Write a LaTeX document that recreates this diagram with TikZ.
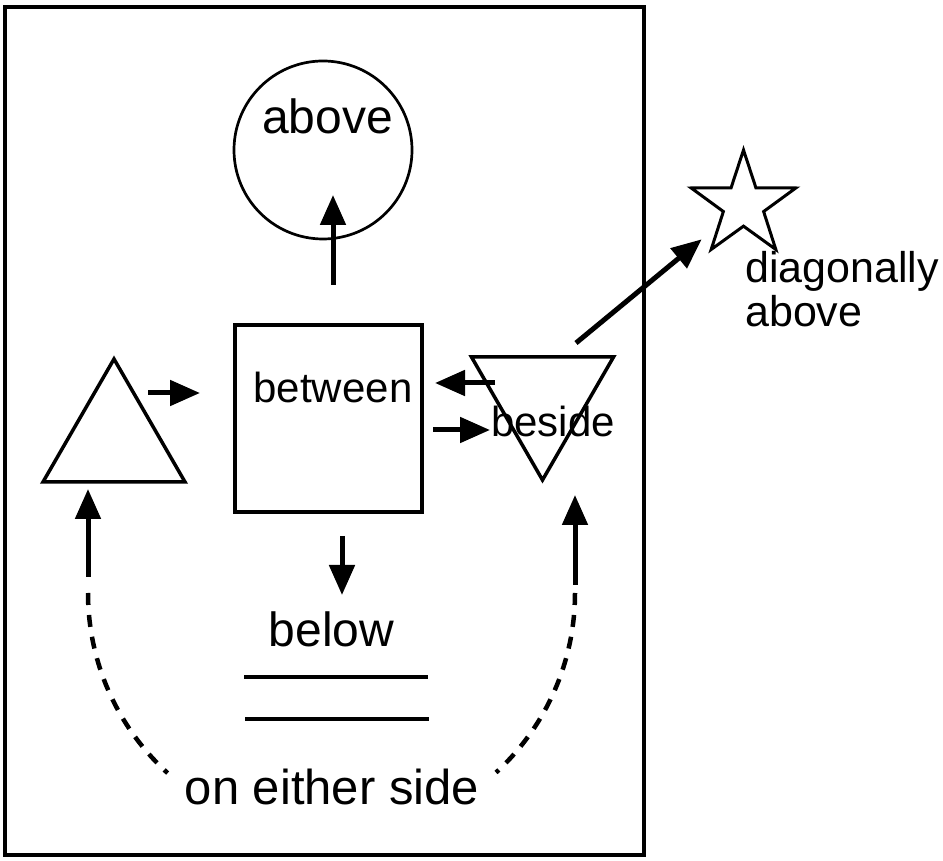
\documentclass[tikz,border=0pt]{standalone}
\usepackage{fontspec}
\setmainfont{Liberation Sans}
\usetikzlibrary{arrows.meta,shapes.geometric}
\begin{document}
\begin{tikzpicture}[x=1pt,y=1pt,
  shapeline/.style={draw, inner sep=0pt, outer sep=0pt},
  arrowline/.style={line width=5pt, -{Triangle[length=30pt,width=25pt]}},
  dashline/.style={line width=4.5pt, dash pattern=on 12pt off 10pt},
  bigtext/.style={font=\fontsize{48}{56}\selectfont, inner sep=0pt, anchor=base},
  midtext/.style={font=\fontsize{42}{48}\selectfont, inner sep=0pt, anchor=base},
]
\useasboundingbox (0,0) rectangle (943,860);

% outer frame
\draw[line width=4.5pt] (5,5) rectangle (644,853);

% shapes
\node[shapeline, circle, line width=2.7pt, minimum size=178pt] (circ) at (323,710) {};
\node[shapeline, rectangle, line width=3.5pt, minimum size=187pt] (box) at (328.5,441.5) {};
\node[shapeline, regular polygon, regular polygon sides=3, line width=3.5pt,
      minimum size=164pt] (tril) at (114,419) {};
\node[shapeline, regular polygon, regular polygon sides=3, shape border rotate=180,
      line width=3.5pt, minimum size=164pt] (trir) at (542.5,462) {};
\node[shapeline, star, star points=5, star point ratio=2.6, line width=3pt,
      minimum size=110pt] (star) at (743.5,655) {};
\draw[line width=3.5pt] (244,183) coordinate (l1a) -- (428,183) coordinate (l1b);
\draw[line width=3.5pt] (245,141) coordinate (l2a) -- (429,141) coordinate (l2b);

% labels
\node[bigtext] (tabove) at (327.5,726) {above};
\node[midtext] (tbetween) at (333,457) {between};
\node[midtext] (tbeside) at (553,423) {beside};
\node[bigtext] (tbelow) at (331.5,213) {below};
\node[bigtext, font=\fontsize{49}{56}\selectfont] (tside) at (332,56) {on either side};
\node[font=\fontsize{43}{44}\selectfont, inner sep=0pt, anchor=base west, align=left]
  (tdiag) at (745,533) {diagonally\\above};

% arrow end points
\coordinate (upA) at (333,575);   \coordinate (upB) at (333,665);
\coordinate (ltA) at (148,467);   \coordinate (ltB) at (200,467);
\coordinate (bsA) at (495,477);   \coordinate (bsB) at (435,477);
\coordinate (bxA) at (433,430);   \coordinate (bxB) at (490,430);
\coordinate (dnA) at (342,324);   \coordinate (dnB) at (342,265);
\coordinate (luA) at (88,283);    \coordinate (luB) at (88,371);
\coordinate (ruA) at (575,275);   \coordinate (ruB) at (575,365);
\coordinate (dgA) at (576,517);   \coordinate (dgB) at (701.7,620.7);
\coordinate (arcc) at (331.5,267);

% arrows
\draw[arrowline] (upA) -- (upB);
\draw[arrowline] (ltA) -- (ltB);
\draw[arrowline] (bsA) -- (bsB);
\draw[arrowline] (bxA) -- (bxB);
\draw[arrowline] (dnA) -- (dnB);
\draw[arrowline] (luA) -- (luB);
\draw[arrowline] (ruA) -- (ruB);
\draw[arrowline] (dgA) -- (dgB);

% dashed sweeps on either side
\draw[dashline] (arcc) ++(180:243.5) arc[start angle=180, end angle=227.7, radius=243.5];
\draw[dashline] (arcc) ++(0:243.5) arc[start angle=0, end angle=-47.5, radius=243.5];
\end{tikzpicture}
\end{document}
